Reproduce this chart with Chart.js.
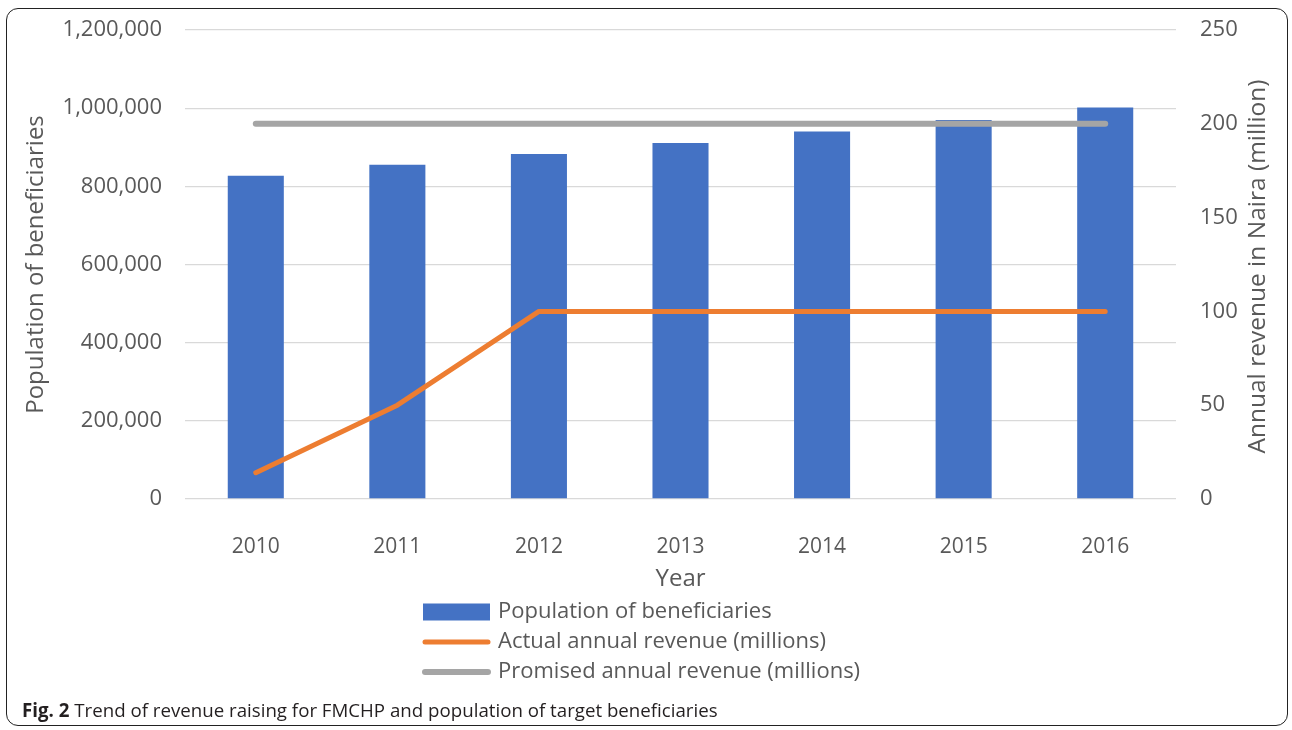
<!DOCTYPE html>
<html>
<head>
<meta charset="utf-8">
<script src="https://cdn.jsdelivr.net/npm/chart.js@4/dist/chart.umd.min.js"></script>
<style>
  html, body { margin: 0; padding: 0; background: #fff; }
  #wrap { position: relative; width: 1292px; height: 730px; overflow: hidden; }
  #frame {
    position: absolute; left: 6px; top: 8px; width: 1282px; height: 718px;
    border: 1.5px solid #222; border-radius: 12px; box-sizing: border-box;
  }
  #c { position: absolute; left: 0; top: 0; }
  #caption {
    position: absolute; left: 22px; top: 699px;
    font-family: "Open Sans", sans-serif; font-size: 18.7px; line-height: 22px; color: #231f20;
    white-space: nowrap;
  }
  #caption b { font-weight: 700; }
</style>
</head>
<body>
<div id="wrap">
  <div id="frame"></div>
  <canvas id="c" width="1292" height="730"></canvas>
  <div id="caption"><b>Fig. 2</b> Trend of revenue raising for FMCHP and population of target beneficiaries</div>
</div>
<script>
// Years on the category axis
const years = ['2010', '2011', '2012', '2013', '2014', '2015', '2016'];
// Population of beneficiaries (left axis)
const population = [827000, 855000, 883000, 911000, 940000, 970000, 1002000];
// Actual annual revenue, millions of Naira (right axis)
const actualRevenue = [14, 50, 100, 100, 100, 100, 100];
// Promised annual revenue, millions of Naira (right axis)
const promisedRevenue = [200, 200, 200, 200, 200, 200, 200];

const FONT = '"Open Sans", sans-serif';
const TEXT = '#595959';

// Vertical right-hand axis title reading bottom to top, plus a stacked legend
const extras = {
  id: 'extras',
  afterDraw(chart) {
    const ctx = chart.ctx;
    const y1 = chart.scales.y1;
    const area = chart.chartArea;
    ctx.save();
    ctx.fillStyle = TEXT;
    ctx.font = '24.5px ' + FONT;
    ctx.textAlign = 'center';
    ctx.textBaseline = 'middle';
    ctx.translate(y1.right - 34, (area.top + area.bottom) / 2 + 2);
    ctx.rotate(-Math.PI / 2);
    ctx.fillText('Annual revenue in Naira (million)', 0, 0);
    ctx.restore();

    // legend
    const ds = chart.data.datasets.slice().sort((a, b) => b.order - a.order);
    const x0 = 423, x1 = 490, tx = 498;
    const rows = [612, 642, 672];
    ctx.save();
    ctx.font = '22px ' + FONT;
    ctx.textBaseline = 'middle';
    ctx.textAlign = 'left';
    ds.forEach((d, i) => {
      const y = rows[i];
      if (d.type === 'bar') {
        ctx.fillStyle = d.backgroundColor;
        ctx.fillRect(x0, y - 8.5, x1 - x0, 17);
      } else {
        ctx.strokeStyle = d.borderColor;
        ctx.lineWidth = d.borderWidth;
        ctx.lineCap = 'round';
        ctx.beginPath();
        ctx.moveTo(x0 + 2, y);
        ctx.lineTo(x1 - 2, y);
        ctx.stroke();
      }
      ctx.fillStyle = TEXT;
      ctx.fillText(d.label, tx, y);
    });
    ctx.restore();
  }
};

// keep the vertical axes from reserving extra room above the plot
const trimPad = s => { s.paddingTop = 12; s.paddingBottom = 12; };

new Chart(document.getElementById('c'), {
  data: {
    labels: years,
    datasets: [
      {
        type: 'bar', label: 'Population of beneficiaries', data: population,
        backgroundColor: '#4472C4', yAxisID: 'y', order: 3,
        barPercentage: 1, categoryPercentage: 0.396
      },
      {
        type: 'line', label: 'Actual annual revenue (millions)', data: actualRevenue,
        borderColor: '#ED7D31', backgroundColor: '#ED7D31', borderWidth: 5,
        borderCapStyle: 'round', borderJoinStyle: 'round',
        pointRadius: 0, tension: 0, yAxisID: 'y1', order: 2
      },
      {
        type: 'line', label: 'Promised annual revenue (millions)', data: promisedRevenue,
        borderColor: '#A5A5A5', backgroundColor: '#A5A5A5', borderWidth: 6,
        borderCapStyle: 'round', pointRadius: 0, yAxisID: 'y1', order: 1
      }
    ]
  },
  options: {
    responsive: false,
    animation: false,
    events: [],
    layout: { padding: { top: 30, left: 0, right: 0, bottom: 131 } },
    plugins: { legend: { display: false }, tooltip: { enabled: false } },
    scales: {
      x: {
        grid: { display: false },
        border: { display: false },
        ticks: { color: TEXT, font: { family: FONT, size: 21 }, padding: 27, maxRotation: 0 },
        title: { display: true, text: 'Year', color: TEXT, font: { family: FONT, size: 24 }, padding: { top: 0, bottom: 5 } },
        afterFit(s) { s.height = 100; }
      },
      y: {
        position: 'left',
        min: 0, max: 1200000,
        ticks: {
          stepSize: 200000, color: TEXT, font: { family: FONT, size: 22 }, padding: 23,
          callback: v => v.toLocaleString('en-US')
        },
        grid: { color: '#D9D9D9', lineWidth: 1.3, drawTicks: false },
        border: { display: false },
        title: { display: true, text: 'Population of beneficiaries', color: TEXT, font: { family: FONT, size: 24 }, padding: { top: 22, bottom: 0 } },
        afterFit(s) { s.width = 185; trimPad(s); }
      },
      y1: {
        position: 'right',
        min: 0, max: 250,
        ticks: { stepSize: 50, color: TEXT, font: { family: FONT, size: 22 }, padding: 24 },
        grid: { display: false, drawTicks: false },
        border: { display: false },
        afterFit(s) { s.width = 116; trimPad(s); }
      }
    }
  },
  plugins: [extras]
});
</script>
</body>
</html>
